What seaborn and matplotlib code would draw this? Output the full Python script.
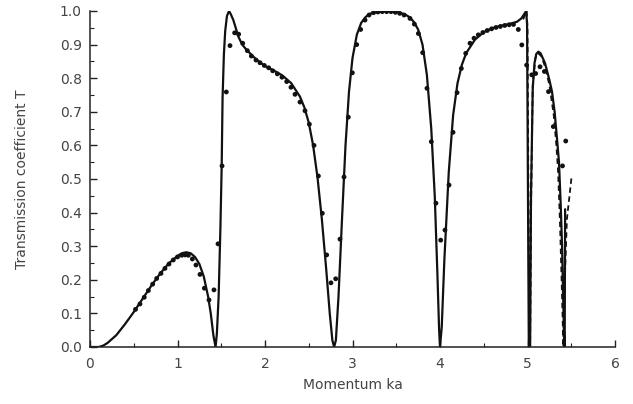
import numpy as np
import pandas as pd
import seaborn as sns
import matplotlib
matplotlib.use("Agg")
import matplotlib.pyplot as plt
from matplotlib.ticker import MultipleLocator, FormatStrFormatter

# ---- data ----
solid_x = [0.0, 0.1, 0.15, 0.2, 0.3, 0.4, 0.5, 0.6, 0.7, 0.8, 0.9, 1.0, 1.05, 1.1, 1.15,
           1.2, 1.25, 1.3, 1.35, 1.38, 1.41, 1.435, 1.45, 1.47, 1.49, 1.505, 1.515, 1.53,
           1.545, 1.565, 1.589, 1.61, 1.638, 1.665, 1.695, 1.74, 1.79, 1.9, 2.0, 2.1, 2.2,
           2.3, 2.4, 2.45, 2.5, 2.55,
           2.6, 2.65, 2.7, 2.74, 2.77, 2.79, 2.81, 2.84, 2.88, 2.92, 2.96, 3.0, 3.05, 3.1,
           3.15, 3.2, 3.3, 3.4, 3.5, 3.6, 3.65, 3.7, 3.75, 3.8, 3.85, 3.9, 3.94, 3.97, 3.99,
           4.0, 4.02, 4.05, 4.1, 4.15, 4.2, 4.25, 4.3, 4.4, 4.5, 4.6, 4.7, 4.8, 4.88, 4.93,
           4.96, 4.985, 4.995, 5.015, 5.03, 5.04, 5.06, 5.08, 5.1, 5.124, 5.15, 5.2, 5.25,
           5.28, 5.31, 5.335, 5.36, 5.38, 5.395, 5.41, 5.42, 5.425, 5.43]
solid_y = [0.0, 0.0, 0.004, 0.012, 0.035, 0.068, 0.104, 0.143, 0.182, 0.218, 0.249, 0.271,
           0.279, 0.282, 0.279, 0.268, 0.247, 0.21, 0.15, 0.1, 0.035, 0.0, 0.04, 0.15, 0.35,
           0.54, 0.74, 0.87, 0.94, 0.985, 1.0, 0.99, 0.973, 0.95, 0.924, 0.9, 0.884, 0.856,
           0.836, 0.823,
           0.808, 0.785, 0.745, 0.713, 0.668, 0.6, 0.505, 0.38, 0.23, 0.1, 0.02, 0.0, 0.02,
           0.15, 0.38, 0.6, 0.76, 0.86, 0.93, 0.965, 0.982, 0.992, 0.998, 1.0, 0.998, 0.99,
           0.982, 0.968, 0.945, 0.9, 0.81, 0.65, 0.45, 0.22, 0.05, 0.0, 0.06, 0.26, 0.52,
           0.69, 0.785, 0.84, 0.875, 0.915, 0.937, 0.949, 0.956, 0.962, 0.968, 0.978, 0.99,
           1.0, 0.96, 0.0, 0.0, 0.45, 0.77, 0.845, 0.872, 0.879, 0.874, 0.845, 0.795, 0.76,
           0.7, 0.626, 0.55, 0.42, 0.3, 0.12, 0.0, 0.0, 0.41]

dash_x = [4.95, 4.99, 5.0, 5.02, 5.03, 5.04, 5.06, 5.09, 5.12, 5.16, 5.2, 5.25, 5.3, 5.33,
          5.35, 5.37, 5.39, 5.405, 5.41, 5.42, 5.45, 5.48, 5.505]
dash_y = [0.975, 1.0, 0.95, 0.0, 0.0, 0.4, 0.78, 0.86, 0.875, 0.865, 0.835, 0.78, 0.69, 0.6,
          0.52, 0.38, 0.2, 0.05, 0.0, 0.15, 0.38, 0.45, 0.51]

dot_x = [0.52, 0.571, 0.62, 0.667, 0.716, 0.762, 0.811, 0.857, 0.903, 0.952, 1.0, 1.048,
         1.086, 1.124, 1.17, 1.211, 1.257, 1.307, 1.36, 1.417, 1.463, 1.509, 1.558, 1.6,
         1.653, 1.699, 1.745, 1.798, 1.844, 1.897, 1.943, 1.992, 2.042, 2.088, 2.141, 2.194,
         2.248, 2.297, 2.343, 2.4, 2.457, 2.507, 2.56, 2.61, 2.655, 2.705, 2.754, 2.808,
         2.857, 2.903, 2.952, 2.998, 3.048, 3.093, 3.143, 3.189, 3.24, 3.29, 3.34, 3.39,
         3.44, 3.49, 3.54, 3.59, 3.657, 3.707, 3.753, 3.802, 3.851, 3.901, 3.954, 4.008,
         4.057, 4.103, 4.149, 4.195, 4.244, 4.294, 4.343, 4.389, 4.438, 4.49, 4.54, 4.59,
         4.64, 4.69, 4.74, 4.79, 4.84, 4.895, 4.935, 4.99, 5.048, 5.093, 5.143, 5.193, 5.24,
         5.295, 5.40, 5.437]
dot_y = [0.112, 0.128, 0.148, 0.168, 0.187, 0.204, 0.219, 0.234, 0.247, 0.259, 0.268, 0.273,
         0.274, 0.273, 0.262, 0.244, 0.216, 0.175, 0.14, 0.17, 0.307, 0.539, 0.759, 0.897,
         0.935, 0.931, 0.904, 0.882, 0.866, 0.854, 0.846, 0.838, 0.831, 0.822, 0.813, 0.803,
         0.79, 0.773, 0.752, 0.729, 0.703, 0.663, 0.6, 0.509, 0.398, 0.274, 0.191, 0.203,
         0.321, 0.506, 0.684, 0.816, 0.9, 0.945, 0.973, 0.988, 0.995, 0.997, 0.998, 0.998,
         0.998, 0.996, 0.993, 0.988, 0.978, 0.961, 0.933, 0.876, 0.77, 0.611, 0.428, 0.318,
         0.348, 0.482, 0.639, 0.757, 0.829, 0.874, 0.904, 0.919, 0.929, 0.936, 0.942, 0.947,
         0.951, 0.954, 0.957, 0.959, 0.96, 0.945, 0.899, 0.839, 0.81, 0.814, 0.834, 0.82,
         0.76, 0.656, 0.539, 0.613]

solid = pd.DataFrame({"x": solid_x, "y": solid_y})
dashed = pd.DataFrame({"x": dash_x, "y": dash_y})
dots = pd.DataFrame({"x": dot_x, "y": dot_y})

sns.set_style("ticks")
plt.rcParams["font.family"] = ["DejaVu Sans"]

fig = plt.figure(figsize=(6.33, 4.04), dpi=100)
ax = fig.add_axes([90 / 633, 57 / 404, 525 / 633, 336 / 404])

ink = "#111111"
sns.lineplot(data=dashed, x="x", y="y", sort=False, estimator=None, ax=ax,
             color=ink, linewidth=1.3, linestyle=(0, (3, 2)))
sns.lineplot(data=solid, x="x", y="y", sort=False, estimator=None, ax=ax,
             color=ink, linewidth=1.6)
sns.scatterplot(data=dots, x="x", y="y", ax=ax, color=ink, s=12, edgecolor="none",
                zorder=5)

ax.set_xlim(0, 6)
ax.set_ylim(0, 1.0)
ax.xaxis.set_major_locator(MultipleLocator(1))
ax.xaxis.set_minor_locator(MultipleLocator(0.5))
ax.yaxis.set_major_locator(MultipleLocator(0.1))
ax.yaxis.set_minor_locator(MultipleLocator(0.05))
ax.yaxis.set_major_formatter(FormatStrFormatter("%.1f"))

for s in ("top", "right"):
    ax.spines[s].set_visible(False)
for s in ("left", "bottom"):
    ax.spines[s].set_linewidth(1.1)
    ax.spines[s].set_color("#222222")

tc = "#444444"
ax.tick_params(axis="both", which="major", direction="in", length=5, width=1,
               color="#222222", labelsize=10, labelcolor=tc)
ax.tick_params(axis="both", which="minor", direction="in", length=3, width=0.8,
               color="#222222")
ax.tick_params(axis="x", which="major", pad=7)
ax.tick_params(axis="y", which="major", pad=6)

ax.set_xlabel("Momentum ka", fontsize=10, color=tc, labelpad=5)
ax.set_ylabel("Transmission coefficient T", fontsize=10, color=tc, labelpad=22)

fig.savefig("out.png", dpi=100)
